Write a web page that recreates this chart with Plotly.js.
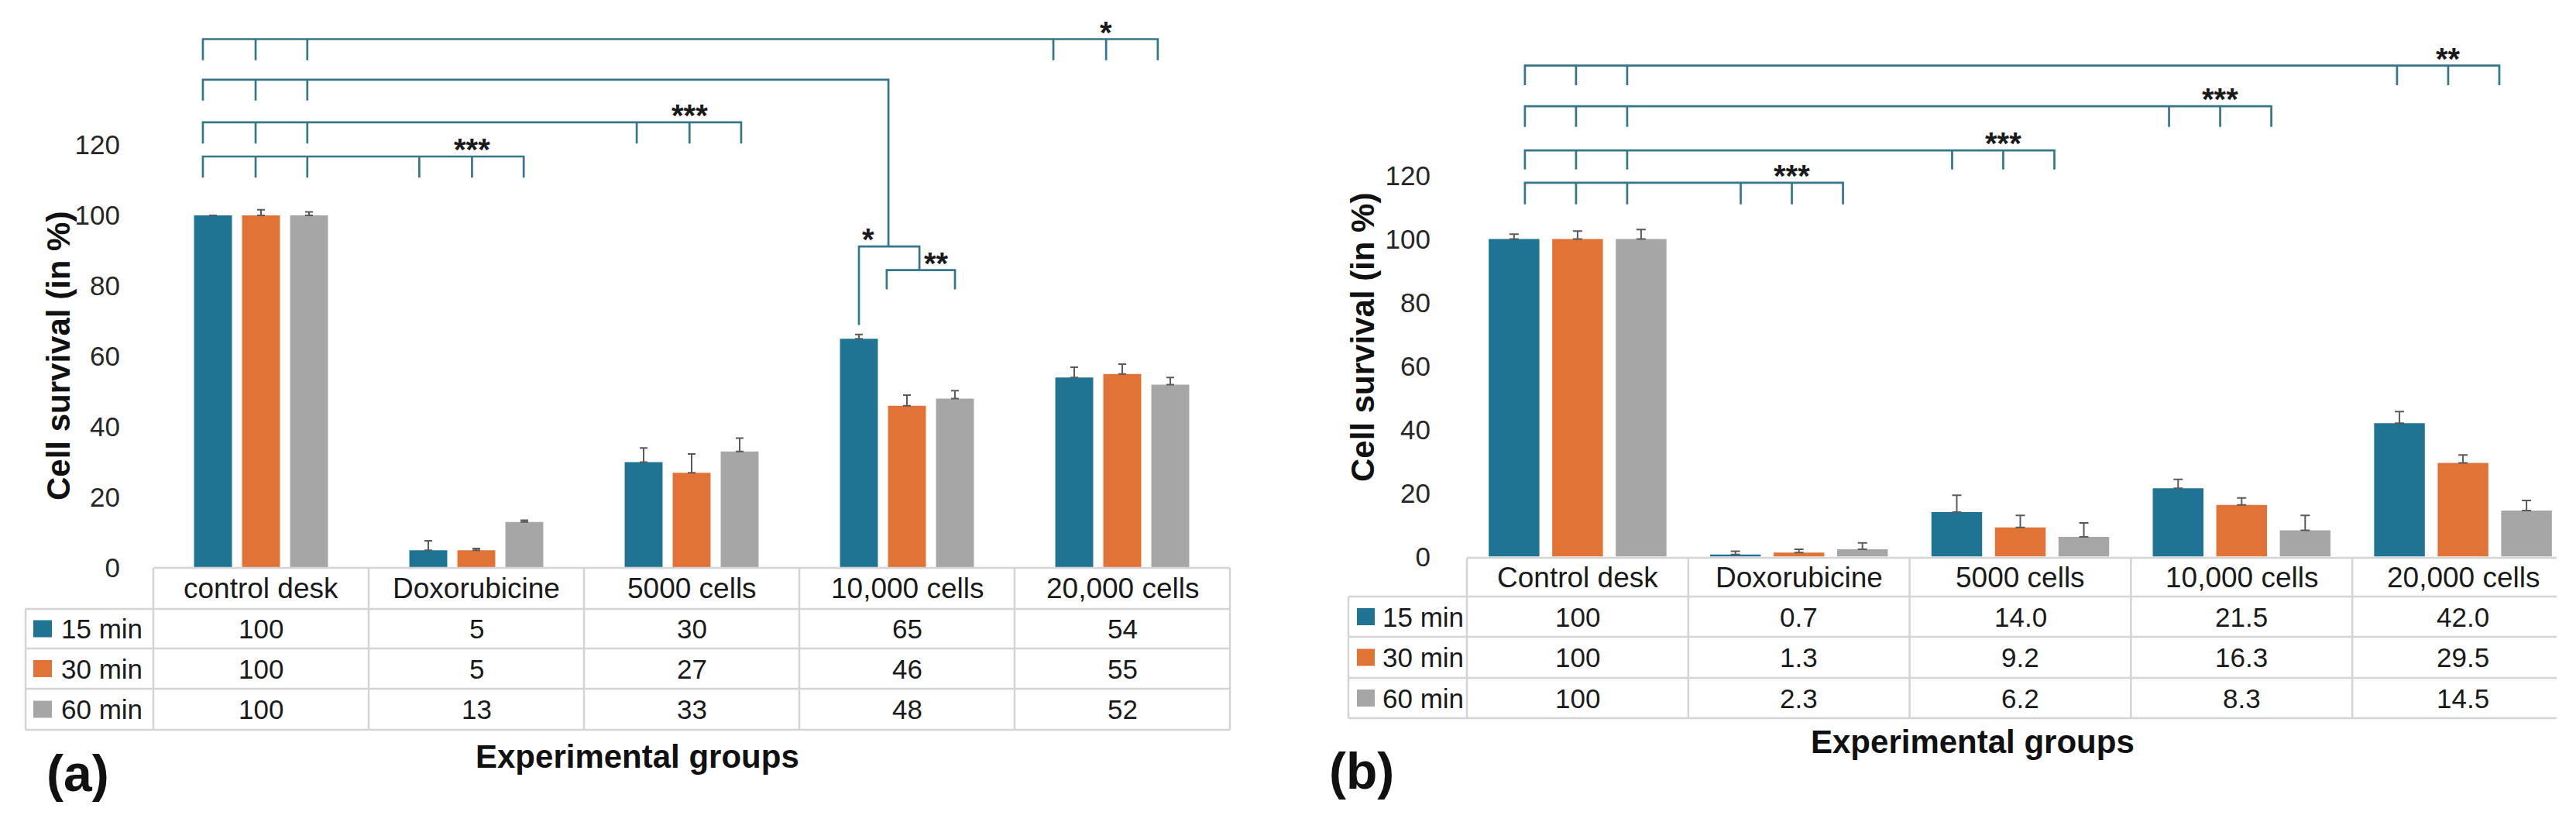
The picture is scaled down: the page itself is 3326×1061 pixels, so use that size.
<!DOCTYPE html>
<html>
<head>
<meta charset="utf-8">
<script src="https://cdn.plot.ly/plotly-3.0.1.min.js"></script>
<style>html,body{margin:0;padding:0;background:#fff;}</style>
</head>
<body>
<div id="chart" style="width:3326px;height:1061px;"></div>
<script>
// dados
const groupsA = ['control desk', 'Doxorubicine', '5000 cells', '10,000 cells', '20,000 cells'];
const groupsB = ['Control desk', 'Doxorubicine', '5000 cells', '10,000 cells', '20,000 cells'];
const seriesNames = ['15 min', '30 min', '60 min'];
const yTicks = [0, 20, 40, 60, 80, 100, 120];

const a15 = [100, 5, 30, 65, 54];
const a30 = [100, 5, 27, 46, 55];
const a60 = [100, 13, 33, 48, 52];
const aErr15 = [0, 2.7, 4.0, 1.2, 2.9];
const aErr30 = [1.6, 0.5, 5.3, 3.0, 2.8];
const aErr60 = [1.0, 0.5, 3.8, 2.3, 2.0];

const b15 = [100, 0.7, 14.0, 21.5, 42.0];
const b30 = [100, 1.3, 9.2, 16.3, 29.5];
const b60 = [100, 2.3, 6.2, 8.3, 14.5];
const bErr15 = [1.5, 1.0, 5.3, 2.8, 3.7];
const bErr30 = [2.5, 1.0, 3.8, 2.2, 2.5];
const bErr60 = [3.0, 2.0, 4.4, 4.7, 3.2];

// comparacoes (grupo de referencia 0 contra "to")
const sigA = [
  { to: 4, y: 150, drop: 6, stars: '*', shift: -0.05 },
  { to: 2, y: 126.4, drop: 6, stars: '***', shift: 0.015 },
  { to: 1, y: 116.7, drop: 6, stars: '***', shift: 0.005 }
];
const sigB = [
  { to: 4, y: 154.6, drop: 6.2, stars: '**', shift: -0.06 },
  { to: 3, y: 141.8, drop: 6.5, stars: '***', shift: -0.09 },
  { to: 2, y: 127.9, drop: 6, stars: '***', shift: -0.07 },
  { to: 1, y: 117.7, drop: 6.8, stars: '***', shift: -0.025 }
];

const W = 3326, H = 1061;
const FONT = 'Liberation Sans, Arial, sans-serif';
const COLORS = ['#1f7494', '#e17336', '#a6a6a6'];
const TEAL = '#35768a';
const GRID = '#d4d4d4';

const panels = [
  { xa: 'x', ya: 'y', left: 198, right: 1588, base: 733, ppu: 4.55,
    rows: [733, 786, 837, 889, 942], legendLeft: 33, tableRight: 1588, rightBorder: true,
    barW: 0.176, step: 0.223, legs: [-0.27, -0.025, 0.215], groups: groupsA,
    vals: [a15, a30, a60], errs: [aErr15, aErr30, aErr60], sig: sigA,
    fmt: v => String(v), tickLen: 35, errW: 5,
    title: { x: 75, y: 460 }, xTitle: { x: 823, y: 976 }, tag: { text: '(a)', x: 100, y: 998 },
    square: [43, 67], labelX: 77 },
  { xa: 'x2', ya: 'y2', left: 1894, right: 3323, base: 718.5, ppu: 4.1,
    rows: [720, 770, 822, 875, 927], legendLeft: 1741, tableRight: 3301, rightBorder: false,
    barW: 0.229, step: 0.287, legs: [-0.238, -0.007, 0.224], groups: groupsB,
    vals: [b15, b30, b60], errs: [bErr15, bErr30, bErr60], sig: sigB,
    fmt: v => (v === 100 ? '100' : v.toFixed(1)), tickLen: 39, errW: 6,
    title: { x: 1760, y: 436 }, xTitle: { x: 2547, y: 957 }, tag: { text: '(b)', x: 1758, y: 995 },
    square: [1752, 1775], labelX: 1783 }
];

const px = v => v / W;
const py = v => 1 - v / H;

const traces = [];
const shapes = [];
const annotations = [];
const layout = {
  width: W, height: H,
  margin: { l: 0, r: 0, t: 0, b: 0 },
  paper_bgcolor: '#fff', plot_bgcolor: '#fff',
  barmode: 'overlay', showlegend: false,
  font: { family: FONT, color: '#1a1a1a' }
};

panels.forEach((p, pi) => {
  const sfx = pi === 0 ? '' : '2';
  const colW = (p.right - p.left) / 5;
  // eixos
  layout['xaxis' + sfx] = {
    domain: [px(p.left), px(p.right)], range: [-0.5, 4.5], anchor: 'y' + sfx,
    showgrid: false, zeroline: false, showline: false, showticklabels: false, ticks: ''
  };
  layout['yaxis' + sfx] = {
    domain: [py(p.base), 1], range: [0, p.base / p.ppu], anchor: 'x' + sfx,
    tickvals: yTicks, ticktext: yTicks.map(String),
    ticks: 'outside', ticklen: p.tickLen, tickcolor: 'rgba(0,0,0,0)',
    tickfont: { size: 35, color: '#262626', family: FONT },
    showgrid: false, zeroline: false, showline: false
  };

  // barras
  p.vals.forEach((vals, si) => {
    traces.push({
      type: 'bar', x: [0, 1, 2, 3, 4], y: vals, name: seriesNames[si],
      xaxis: p.xa, yaxis: p.ya,
      width: p.barW, offset: (si - 1) * p.step - p.barW / 2,
      marker: { color: COLORS[si], line: { width: 0 } },
      error_y: { type: 'data', symmetric: false, array: p.errs[si], arrayminus: vals.map(() => 0),
        color: '#5a5a5a', thickness: 2, width: p.errW },
      hoverinfo: 'y'
    });
  });

  // tabela
  const line = (x0, y0, x1, y1) => shapes.push({
    type: 'line', xref: 'paper', yref: 'paper', x0: px(x0), y0: py(y0), x1: px(x1), y1: py(y1),
    line: { color: GRID, width: 2.5 }
  });
  line(p.left, p.rows[0], p.tableRight, p.rows[0]);
  for (let r = 1; r < p.rows.length; r++) line(p.legendLeft, p.rows[r], p.tableRight, p.rows[r]);
  for (let c = 0; c <= 5; c++) {
    const xe = p.left + c * colW;
    if (c === 5 && !p.rightBorder) continue;
    line(xe, p.rows[0], xe, p.rows[4]);
  }
  line(p.legendLeft, p.rows[1], p.legendLeft, p.rows[4]);

  const cellText = (text, x, y, size, anchor) => annotations.push({
    xref: 'paper', yref: 'paper', x: px(x), y: py(y), text, showarrow: false,
    xanchor: anchor || 'center', yanchor: 'middle',
    font: { size, family: FONT, color: '#1a1a1a' }
  });
  p.groups.forEach((g, i) => {
    const cx = p.left + (i + 0.5) * colW;
    cellText(g, cx, (p.rows[0] + p.rows[1]) / 2, 37);
    p.vals.forEach((vals, si) => cellText(p.fmt(vals[i]), cx, (p.rows[si + 1] + p.rows[si + 2]) / 2, 35));
  });
  seriesNames.forEach((s, si) => {
    const cy = (p.rows[si + 1] + p.rows[si + 2]) / 2;
    shapes.push({ type: 'rect', xref: 'paper', yref: 'paper',
      x0: px(p.square[0]), x1: px(p.square[1]), y0: py(cy - 11), y1: py(cy + 11),
      fillcolor: COLORS[si], line: { width: 0 } });
    cellText(s, p.labelX, cy, 35, 'left');
  });

  // titulos
  annotations.push({ xref: 'paper', yref: 'paper', x: px(p.title.x), y: py(p.title.y),
    text: '<b>Cell survival (in %)</b>', textangle: -90, showarrow: false,
    xanchor: 'center', yanchor: 'middle', font: { size: 42, family: FONT, color: '#111' } });
  annotations.push({ xref: 'paper', yref: 'paper', x: px(p.xTitle.x), y: py(p.xTitle.y),
    text: '<b>Experimental groups</b>', showarrow: false,
    xanchor: 'center', yanchor: 'middle', font: { size: 42, family: FONT, color: '#111' } });
  annotations.push({ xref: 'paper', yref: 'paper', x: px(p.tag.x), y: py(p.tag.y),
    text: '<b>' + p.tag.text + '</b>', showarrow: false,
    xanchor: 'center', yanchor: 'middle', font: { size: 66, family: FONT, color: '#111' } });

  // colchetes de significancia
  const path = d => shapes.push({ type: 'path', xref: p.xa, yref: p.ya, path: d,
    line: { color: TEAL, width: 2.7 } });
  const star = (text, x, y) => annotations.push({ xref: p.xa, yref: p.ya, x, y, text: '<b>' + text + '</b>',
    showarrow: false, xanchor: 'center', yanchor: 'middle', yshift: 9,
    font: { size: 40, family: FONT, color: '#1a1a1a' } });
  p.sig.forEach(s => {
    const L = p.legs.map(o => o);
    const R = p.legs.map(o => s.to + o + s.shift);
    const yb = s.y - s.drop;
    let d = `M${L[0]},${yb} L${L[0]},${s.y} L${R[2]},${s.y} L${R[2]},${yb}`;
    [L[1], L[2], R[0], R[1]].forEach(x => { d += ` M${x},${s.y} L${x},${yb}`; });
    path(d);
    star(s.stars, R[1], s.y);
  });
});

// painel (a): colchete especial ate 10,000 cells
const dendro = { top: 138.5, drop: 5.9, xv: 2.914, mid: 91.2, x15: 2.777, xr: 3.058, y15: 68.9,
  low: 84.5, x30: 2.906, x60: 3.223, lowDrop: 5.5 };
const lg = panels[0].legs;
let d2 = `M${lg[0]},${dendro.top - dendro.drop} L${lg[0]},${dendro.top} L${dendro.xv},${dendro.top} L${dendro.xv},${dendro.mid}`;
d2 += ` M${lg[1]},${dendro.top} L${lg[1]},${dendro.top - dendro.drop}`;
d2 += ` M${lg[2]},${dendro.top} L${lg[2]},${dendro.top - dendro.drop}`;
d2 += ` M${dendro.x15},${dendro.y15} L${dendro.x15},${dendro.mid} L${dendro.xr},${dendro.mid} L${dendro.xr},${dendro.low}`;
d2 += ` M${dendro.x30},${dendro.low - dendro.lowDrop} L${dendro.x30},${dendro.low} L${dendro.x60},${dendro.low} L${dendro.x60},${dendro.low - dendro.lowDrop}`;
shapes.push({ type: 'path', xref: 'x', yref: 'y', path: d2, line: { color: TEAL, width: 2.7 } });
annotations.push({ xref: 'x', yref: 'y', x: 2.82, y: dendro.mid, text: '<b>*</b>', showarrow: false,
  xanchor: 'center', yanchor: 'middle', yshift: 9, font: { size: 40, family: FONT, color: '#1a1a1a' } });
annotations.push({ xref: 'x', yref: 'y', x: 3.137, y: dendro.low, text: '<b>**</b>', showarrow: false,
  xanchor: 'center', yanchor: 'middle', yshift: 9, font: { size: 40, family: FONT, color: '#1a1a1a' } });

layout.shapes = shapes;
layout.annotations = annotations;

Plotly.newPlot('chart', traces, layout, { staticPlot: true, displayModeBar: false });
</script>
</body>
</html>
